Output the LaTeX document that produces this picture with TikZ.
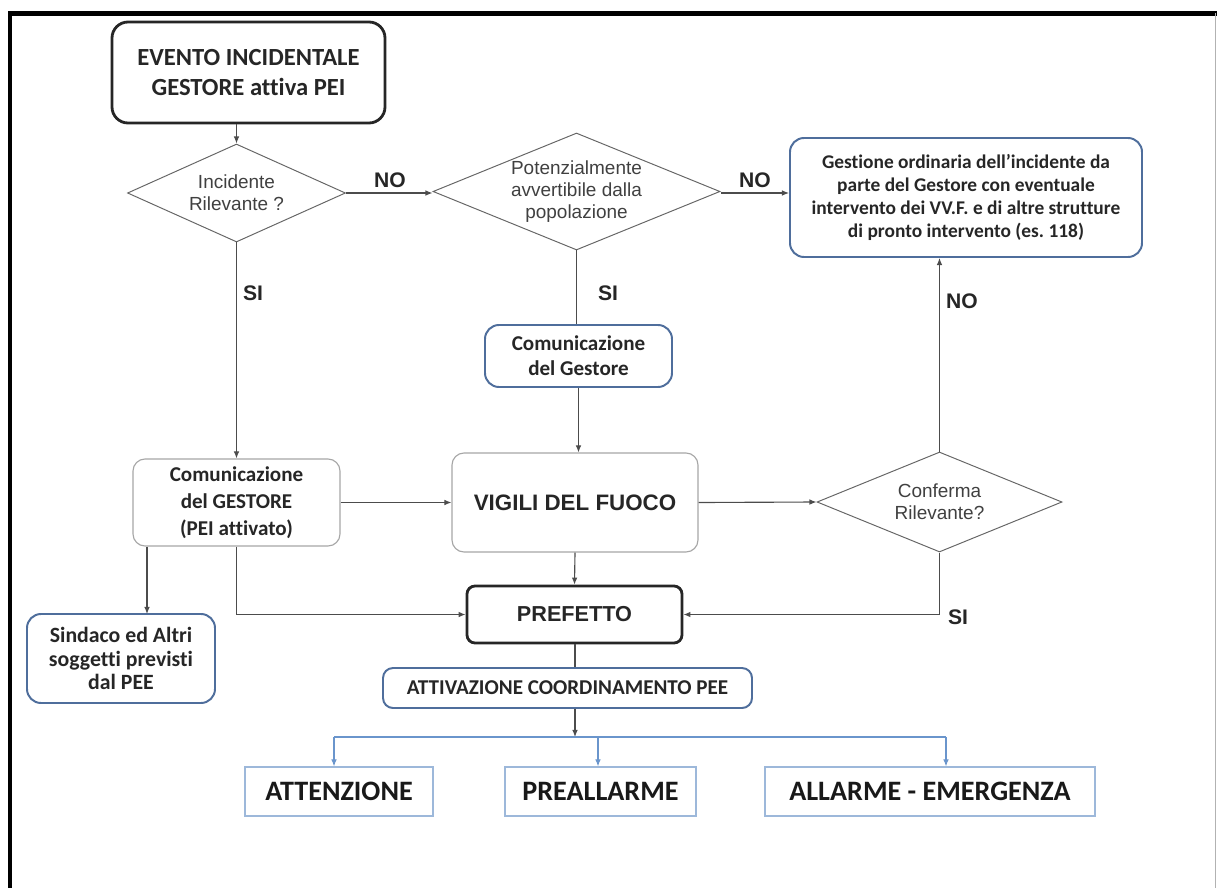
\documentclass[tikz,border=0pt]{standalone}
\usepackage{fontspec}
\setmainfont{Carlito}[Ligatures=NoCommon]
\newfontfamily\arialf{Liberation Sans}
\usetikzlibrary{shapes.geometric,arrows.meta}
\definecolor{boxblue}{HTML}{4F6E9C}
\definecolor{lineblue}{HTML}{6A95CC}
\definecolor{lightblue}{HTML}{9DB8DA}
\newcommand{\px}{0.025cm}
\newcommand{\fs}[2]{\fontsize{#1}{#2}\selectfont}

\begin{document}
\begin{tikzpicture}[x=\px,y=-\px,
    arr/.style={draw=black!70,line width=0.8pt,-{Latex[length=5pt,width=4pt]}},
    barr/.style={draw=lineblue,line width=0.8pt,-{Latex[length=5pt,width=4pt]}},
    dec/.style={diamond,aspect=2.45,draw=black!60,line width=0.7pt,inner sep=0pt,align=center,
      text=black!75,font=\arialf\fs{13.5}{15.5}},
    startbox/.style={draw=black!85,line width=2pt,rounded corners=0.4cm,align=center,
      text=black!85,font=\bfseries\fs{17.5}{21.5}},
    bluebox/.style={draw=boxblue,line width=1.4pt,rounded corners=0.35cm,align=center,
      text=black!85,font=\bfseries\fs{15}{18}},
    graybox/.style={draw=black!35,line width=0.8pt,rounded corners=0.3cm,align=center,
      text=black!85,font=\bfseries\fs{15}{19}},
    levelbox/.style={draw=lightblue,line width=0.8pt,text=black!90,
      font=\bfseries\fs{20}{22}},
    lbl/.style={text=black!85,font=\arialf\bfseries\fs{15}{18}}]
  \useasboundingbox (0,0) rectangle (1217,888);
  \draw[line width=3.5pt] (1217,13.5) -- (10,13.5) -- (10,888);
  \draw[black!30,line width=0.6pt] (1215,13) -- (1215,888);

  \node[startbox,minimum width=273*\px,minimum height=101*\px] (evento) at (248.5,72.5)
    {EVENTO INCIDENTALE\\GESTORE attiva PEI};
  \node[dec,minimum width=218*\px,minimum height=98*\px] (d1) at (236.5,193)
    {Incidente\\Rilevante ?};
  \node[dec,minimum width=287*\px,minimum height=117*\px] (d2) at (576.5,191.5)
    {Potenzialmente\\avvertibile dalla\\popolazione};
  \node[bluebox,font=\bfseries\fs{13.8}{16.5},minimum width=352*\px,minimum height=119*\px]
    (gest) at (966,197.5)
    {Gestione ordinaria dell'incidente da\\parte del Gestore con eventuale\\intervento dei VV.F. e di altre strutture\\di pronto intervento (es.\ 118)};
  \node[bluebox,minimum width=187*\px,minimum height=62*\px] (comg) at (578.5,356)
    {Comunicazione\\del Gestore};
  \node[graybox,minimum width=207*\px,minimum height=87*\px] (comG) at (236.5,502.5)
    {Comunicazione\\del GESTORE\\(PEI attivato)};
  \node[graybox,font=\arialf\bfseries\fs{15.9}{18},minimum width=246*\px,minimum height=99*\px]
    (vvf) at (575,502.5) {VIGILI DEL FUOCO};
  \node[dec,minimum width=245*\px,minimum height=100*\px] (d3) at (939.5,502)
    {Conferma\\Rilevante?};
  \node[bluebox,font=\bfseries\fs{15.5}{17},minimum width=188*\px,minimum height=89*\px]
    (sind) at (121,658.5) {Sindaco ed Altri\\soggetti previsti\\dal PEE};
  \node[draw=black!85,line width=2pt,rounded corners=0.2cm,text=black!85,
    font=\arialf\bfseries\fs{15.4}{18},minimum width=215*\px,minimum height=57*\px]
    (pref) at (574.5,614.5) {PREFETTO};
  \node[bluebox,rounded corners=0.25cm,minimum width=369*\px,minimum height=40*\px]
    (attiv) at (567.5,688) {ATTIVAZIONE COORDINAMENTO PEE};
  \node[levelbox,minimum width=188*\px,minimum height=49*\px] (att) at (339,791.5) {ATTENZIONE};
  \node[levelbox,minimum width=191*\px,minimum height=49*\px] (pre) at (600.5,791.5) {PREALLARME};
  \node[levelbox,minimum width=330*\px,minimum height=49*\px] (all) at (930,791.5) {ALLARME - EMERGENZA};

  \coordinate (sindtop) at (147,614);
  \coordinate (split) at (575,737);
  \coordinate (t1) at (334,737);
  \coordinate (t2) at (598,737);
  \coordinate (t3) at (946,737);

  \draw[arr] (d1.north |- evento.south) -- (d1.north);
  \draw[arr] (d1.east) -- (d1.east -| d2.west);
  \draw[arr] (d1.east -| d2.east) -- (d1.east -| gest.west);
  \draw[arr] (d1.south) -- (d1.south |- comG.north);
  \draw[draw=black!70,line width=0.8pt] (d2.south) -- (d2.south |- comg.north);
  \draw[arr] (comg.south) -- (comg.south |- vvf.north);
  \draw[arr] (comG.east) -- (vvf.west);
  \draw[arr] (vvf.east) -- (d3.west);
  \draw[arr] (d3.north) -- (d3.north |- gest.south);
  \draw[arr] (d3.south) |- (pref.east);
  \draw[arr] (comG.south) |- (pref.west);
  \draw[arr] (sindtop |- comG.south) -- (sindtop);
  \draw[arr] (vvf.south) -- (pref.north);
  \draw[draw=black!70,line width=0.8pt] (split |- pref.south) -- (split |- attiv.north);
  \draw[arr] (split |- attiv.south) -- (split);
  \draw[draw=lineblue,line width=0.8pt] (t1) -- (t3);
  \draw[barr] (t1) -- (t1 |- att.north);
  \draw[barr] (t2) -- (t2 |- pre.north);
  \draw[barr] (t3) -- (t3 |- all.north);

  \node[lbl] (no1) at (390,180) {NO};
  \node[lbl] (no2) at (755,180) {NO};
  \node[lbl] (no3) at (962,301) {NO};
  \node[lbl] (si1) at (253,293) {SI};
  \node[lbl] (si2) at (608,293) {SI};
  \node[lbl] (si3) at (958,617) {SI};
\end{tikzpicture}
\end{document}
